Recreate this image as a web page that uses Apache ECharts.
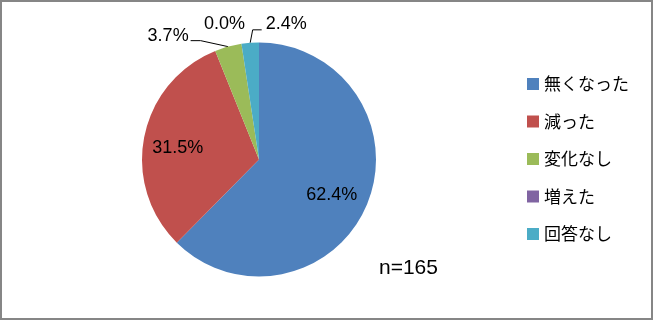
<!DOCTYPE html>
<html>
<head>
<meta charset="utf-8">
<script src="https://cdn.jsdelivr.net/npm/echarts@6/dist/echarts.min.js"></script>
<style>
html,body{margin:0;padding:0;background:#fff;}
#wrap{position:relative;width:654px;height:321px;overflow:hidden;}
#chart{position:absolute;left:0;top:0;width:654px;height:321px;}
#frame{position:absolute;left:0;top:0;width:653px;height:320px;box-sizing:border-box;border:2px solid #868686;pointer-events:none;}
</style>
</head>
<body>
<div id="wrap"><div id="chart"></div><div id="frame"></div></div>
<script>
// ---- data ----
var categories = ['無くなった', '減った', '変化なし', '増えた', '回答なし'];
var percents = [62.4, 31.5, 3.7, 0.0, 2.4];
var sampleNote = 'n=165';

// ---- styling / layout config ----
var colors = ['#4F81BD', '#C0504D', '#9BBB59', '#8064A2', '#4BACC6'];
var CX = 259, CY = 159.5, R = 117;
// label placement: inside labels at a fraction of radius; outside labels offset from slice edge
var labelCfg = [
  {mode: 'in', frac: 0.70, ddx: -3, ddy: 4},
  {mode: 'in', frac: 0.70, ddx: -1, ddy: 5},
  {mode: 'out', dx: -60, dy: -11, line: true, side: 'left'},
  {mode: 'out', dx: -17, dy: -20, line: false},
  {mode: 'out', dx: 36, dy: -19, line: true, side: 'right'}
];

var total = percents.reduce(function (a, b) { return a + b; }, 0);
function midAngle(i) {
  var acc = 0;
  for (var k = 0; k < i; k++) acc += percents[k];
  var a0 = 90 - acc / total * 360;
  var a1 = a0 - percents[i] / total * 360;
  return (a0 + a1) / 2 * Math.PI / 180;
}

var chart = echarts.init(document.getElementById('chart'), null, {renderer: 'canvas'});
var numFont = '"Liberation Sans", Arial, sans-serif';
chart.setOption({
  animation: false,
  color: colors,
  title: {
    text: sampleNote,
    left: 379, top: 258, padding: 0,
    textStyle: {fontSize: 21, fontWeight: 'normal', color: '#000', fontFamily: numFont}
  },
  legend: {
    orient: 'vertical',
    left: 527, top: 75,
    padding: 0,
    icon: 'rect',
    itemWidth: 12, itemHeight: 12,
    itemGap: 19.5,
    data: categories,
    textStyle: {fontSize: 17, lineHeight: 18, color: '#000', fontFamily: '"Noto Sans CJK JP", sans-serif'}
  },
  series: [{
    type: 'pie',
    center: [CX, CY],
    radius: R,
    startAngle: 90,
    clockwise: true,
    avoidLabelOverlap: false,
    minShowLabelAngle: -1,
    itemStyle: {borderWidth: 0},
    label: {
      show: true, position: 'outside',
      fontSize: 18, color: '#000', fontFamily: numFont,
      formatter: function (p) { return p.value.toFixed(1) + '%'; }
    },
    labelLine: {show: true, lineStyle: {color: '#000', width: 1}},
    emphasis: {disabled: true},
    data: categories.map(function (c, i) {
      return {name: c, value: percents[i], labelLine: {show: !!labelCfg[i].line}};
    }),
    labelLayout: function (params) {
      var i = params.dataIndex;
      var cfg = labelCfg[i];
      var a = midAngle(i);
      if (cfg.mode === 'in') {
        return {
          x: CX + R * cfg.frac * Math.cos(a) + cfg.ddx,
          y: CY - R * cfg.frac * Math.sin(a) + cfg.ddy,
          align: 'center', verticalAlign: 'middle'
        };
      }
      var ex = CX + R * Math.cos(a), ey = CY - R * Math.sin(a);
      var lx = ex + cfg.dx, ly = ey + cfg.dy;
      var res = {x: lx, y: ly, align: 'center', verticalAlign: 'middle'};
      if (cfg.line) {
        var w = params.labelRect.width;
        if (cfg.side === 'left') {
          var tx = lx + w / 2 + 2;
          res.labelLinePoints = [[ex, ey], [tx + 10, ly + 5], [tx, ly + 5]];
        } else {
          var tx2 = lx - w / 2 - 4;
          res.labelLinePoints = [[ex, ey], [tx2 - 9, ly + 6], [tx2, ly + 6]];
        }
      }
      return res;
    }
  }]
});
</script>
</body>
</html>
